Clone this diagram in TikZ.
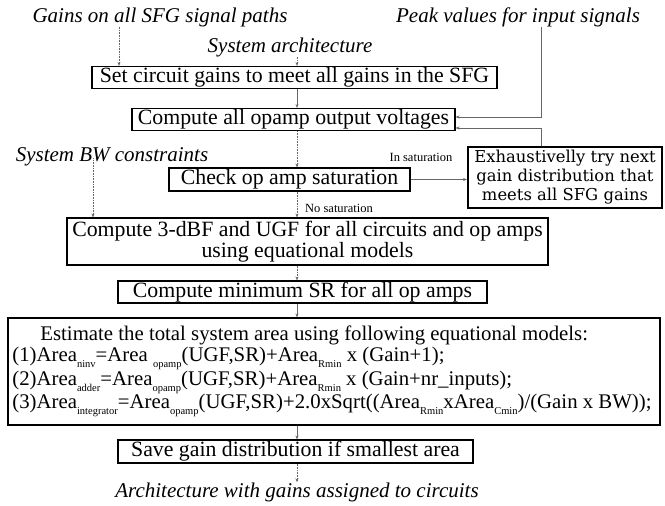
\documentclass[tikz,border=0pt]{standalone}
\usepackage{fontspec}
\setmainfont{Liberation Serif}
\newfontfamily\exfont{DejaVu Serif}
\usetikzlibrary{arrows.meta}
\newcommand\lsub[1]{\raisebox{-0.6ex}{\fontsize{10.5}{10.5}\selectfont #1}}
\begin{document}
\begin{tikzpicture}[x=1pt,y=-1pt,
  every node/.style={font=\fontsize{21.8}{19}\selectfont},
  box/.style={draw=black,line width=1.1pt,rectangle,inner sep=0pt,align=center},
  lbl/.style={font=\fontsize{21}{21}\selectfont\itshape,inner sep=0pt},
  con/.style={draw=black!60,line width=0.6pt,-{Stealth[length=4pt,width=3pt]}},
  dcon/.style={con,densely dotted},
  small/.style={font=\fontsize{12.5}{13}\selectfont,inner sep=0pt}]
\useasboundingbox (0,0) rectangle (665,506);

\node[lbl] (gains) at (160,17) {Gains on all SFG signal paths};
\node[lbl] (peak) at (518,17) {Peak values for input signals};
\node[lbl] (arch) at (290,47) {System architecture};
\node[lbl] (bw) at (112,157) {System BW constraints};
\node[lbl] (out) at (297,492) {Architecture with gains assigned to circuits};

\node[box,minimum width=405pt,minimum height=22pt] (b1) at (294.5,77.5) {Set circuit gains to meet all gains in the SFG};
\node[box,minimum width=323pt,minimum height=22pt] (b2) at (293.5,119.5) {Compute all opamp output voltages};
\node[box,minimum width=241pt,minimum height=23pt] (b3) at (289.5,179.5) {Check op amp saturation};
\node[box,line width=2pt,minimum width=194pt,minimum height=61pt,font=\exfont\fontsize{16.4}{19}\selectfont] (ex) at (565,177.5) {Exhaustivelly try next\\gain distribution that\\meets all SFG gains};
\node[box,minimum width=481pt,minimum height=47pt] (b4) at (307.5,241.5) {Compute 3-dBF and UGF for all circuits and op amps\\using equational models};
\node[box,minimum width=369pt,minimum height=22pt] (b5) at (302.5,292) {Compute minimum SR for all op amps};
\node[box,minimum width=652pt,minimum height=107pt,align=left,font=\fontsize{20.8}{21}\selectfont] (b6) at (334,371.5) {\hspace*{28pt}Estimate the total system area using following equational models:\\
(1)Area\lsub{ninv}=Area \lsub{opamp}(UGF,SR)+Area\lsub{Rmin} x (Gain+1);\\
(2)Area\lsub{adder}=Area\lsub{opamp}(UGF,SR)+Area\lsub{Rmin} x (Gain+nr\_inputs);\\
(3)Area\lsub{integrator}=Area\lsub{opamp}(UGF,SR)+2.0xSqrt((Area\lsub{Rmin}xArea\lsub{Cmin})/(Gain x BW));\hspace*{4pt}};
\node[box,minimum width=355pt,minimum height=23pt] (b7) at (295.5,451.5) {Save gain distribution if smallest area};

\node[small] (insat) at (421,157) {In saturation};
\node[small,anchor=west] (nosat) at (305,208) {No saturation};

\coordinate (ax) at (297,0);
\coordinate (gx) at (119,0);
\coordinate (bx) at (93,0);
\coordinate (p1) at (541,117);
\coordinate (p2) at (541,128);

\draw[dcon] (gx |- gains.south) -- (gx |- b1.north);
\draw[dcon] (ax |- arch.south) -- (ax |- b1.north);
\draw[con] (ax |- b1.south) -- (ax |- b2.north);
\draw[dcon] (ax |- b2.south) -- (ax |- b3.north);
\draw[dcon] (ax |- b3.south) -- (ax |- b4.north);
\draw[dcon] (ax |- b4.south) -- (ax |- b5.north);
\draw[con] (ax |- b5.south) -- (ax |- b6.north);
\draw[con] (ax |- b6.south) -- (ax |- b7.north);
\draw[dcon] (ax |- b7.south) -- (ax |- out.north);
\draw[dcon] ([yshift=8pt]bx |- bw.south) -- (bx |- b4.north);
\draw[con] (p1 |- peak.south) -- (p1) -- (p1 -| b2.east);
\draw[con] (p2 |- ex.north) -- (p2) -- (p2 -| b2.east);
\draw[con] (b3.east) -- (ex.west |- b3.east);
\end{tikzpicture}
\end{document}
